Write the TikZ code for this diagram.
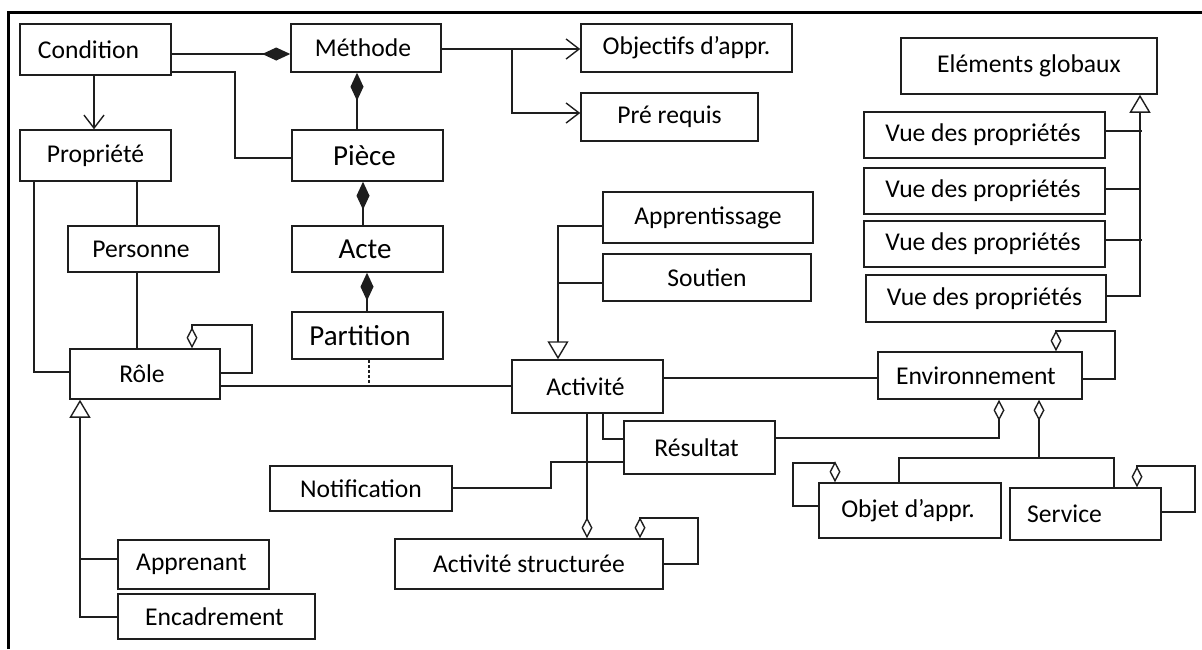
\documentclass[tikz,border=0pt]{standalone}
\usepackage{fontspec}
\setmainfont{Carlito}
\usetikzlibrary{arrows.meta}
\definecolor{ink}{HTML}{1E1E1E}

\begin{document}
\begin{tikzpicture}[x=1pt,y=-1pt,
  box/.style={draw=ink, line width=1.5pt, inner sep=0pt, text=black,
    font=\fontsize{25.6}{29}\selectfont},
  big/.style={font=\fontsize{29}{33}\selectfont},
  sz/.style 2 args={minimum width=#1pt, minimum height=#2pt},
  link/.style={draw=ink, line width=1.4pt, line join=miter},
  nav/.style={-{Straight Barb[length=13pt,width=20pt]}},
  comp/.style={{Diamond[length=28pt,width=13pt]}-},
  compend/.style={-{Diamond[length=28pt,width=13pt]}},
  aggr/.style={{Diamond[open,length=21pt,width=11pt]}-},
  aggrend/.style={-{Diamond[open,length=21pt,width=11pt]}},
  gen/.style={{Triangle[open,length=18pt,width=21pt]}-},
]
\useasboundingbox (0,0) rectangle (1202,649);

% frame
\draw[line width=3.5pt] (8.3,649) -- (8.3,12.3) -- (1202,12.3);

% classes
\node[box, sz={151}{51}] (cond) at (95.5,49.5) {Condition\kern14pt};
\node[box, sz={150}{48}] (meth) at (366,48) {Méthode\kern6pt};
\node[box, sz={211}{48}] (obj) at (686.5,48) {Objectifs d’appr.};
\node[box, sz={177}{48}] (prereq) at (669.5,117) {Pré requis};
\node[box, sz={151}{51}] (prop) at (95.5,155.5) {Propriété};
\node[box, big, sz={151}{51}] (piece) at (367.5,155.5) {Pièce\kern6pt};
\node[box, sz={151}{46}] (pers) at (143.5,249) {Personne\kern5pt};
\node[box, big, sz={151}{46}] (acte) at (367.5,249) {Acte\kern5pt};
\node[box, big, sz={151}{47}] (part) at (367.5,335.5) {Partition\kern15pt};
\node[box, sz={150}{50}] (role) at (145,374) {Rôle\kern6pt};
\node[box, sz={210}{51}] (appr) at (708,217.5) {Apprentissage};
\node[box, sz={208}{47}] (sout) at (707,277.5) {Soutien};
\node[box, sz={151}{53}] (act) at (587.5,386.5) {Activité\kern4pt};
\node[box, sz={204}{47}] (env) at (980,375.5) {Environnement\kern8pt};
\node[box, sz={151}{53}] (res) at (699.5,447.5) {Résultat\kern6pt};
\node[box, sz={182}{45}] (notif) at (361,488.5) {Notification};
\node[box, sz={268}{50}] (astr) at (529,564) {Activité structurée};
\node[box, sz={151}{49}] (appren) at (193.5,564.5) {Apprenant\kern4pt};
\node[box, sz={197}{45}] (encad) at (216.5,616.5) {Encadrement\kern4pt};
\node[box, sz={182}{55}] (objet) at (910,510.5) {Objet d’appr.\kern4pt};
\node[box, sz={151}{52}] (serv) at (1085.5,514) {Service\kern42pt};
\node[box, sz={256}{56}] (glob) at (1029,66) {Eléments globaux};
\node[box, sz={241}{46}] (vue1) at (984.5,135) {Vue des propriétés\kern3pt};
\node[box, sz={241}{46}] (vue2) at (984.5,191) {Vue des propriétés\kern3pt};
\node[box, sz={241}{46}] (vue3) at (984.5,244) {Vue des propriétés\kern3pt};
\node[box, sz={240}{47}] (vue4) at (986,298.5) {Vue des propriétés\kern3pt};

% top cluster
\draw[link, nav] (cond.south -| 94,0) -- (prop.north -| 94,0);
\draw[link, compend] (cond.east |- 0,54) -- (meth.west |- 0,54);
\draw[link] (cond.east |- 0,72) -- (235,72) -- (235,158) -- (piece.west |- 0,158);
\draw[link, comp] (meth.south -| 357,0) -- (piece.north -| 357,0);
\draw[link, nav] (meth.east |- 0,49) -- (obj.west |- 0,49);
\draw[link, nav] (512,49) -- (512,113) -- (prereq.west |- 0,113);
\draw[link, comp] (piece.south -| 363,0) -- (acte.north -| 363,0);
\draw[link, comp] (acte.south -| 367,0) -- (part.north -| 367,0);

% roles
\draw[link] (prop.south -| 34,0) -- (34,372) -- (role.west |- 0,372);
\draw[link] (prop.south -| 137,0) -- (pers.north -| 137,0);
\draw[link] (pers.south -| 137,0) -- (role.north -| 137,0);
\draw[link, aggr] (role.north -| 192,0) -- (192,325) -- (252,325) -- (252,373) -- (role.east |- 0,373);
\draw[link, gen] (role.south -| 80,0) -- (80,617) -- (encad.west |- 0,617);
\draw[link] (80,559) -- (appren.west |- 0,559);

% activities
\draw[link] (role.east |- 0,386) -- (act.west |- 0,386);
\coordinate (pj) at (369,386);
\draw[link, line width=1.2pt, dash pattern=on 3pt off 2pt] (part.south -| 369,0) -- (pj);
\draw[link, gen] (act.north -| 558,0) -- (558,226) -- (appr.west |- 0,226);
\draw[link] (558,283) -- (sout.west |- 0,283);
\draw[link] (act.east |- 0,378) -- (env.west |- 0,378);
\draw[link, aggr] (astr.north -| 587,0) -- (act.south -| 587,0);
\draw[link, aggr] (astr.north -| 640,0) -- (640,518) -- (698,518) -- (698,564) -- (astr.east |- 0,564);
\draw[link] (act.south -| 603,0) -- (603,439) -- (res.west |- 0,439);
\draw[link] (notif.east |- 0,488) -- (551,488) -- (551,462) -- (res.west |- 0,462);
\draw[link, aggrend] (res.east |- 0,438) -- (999,438) -- (env.south -| 999,0);

% environment
\draw[link, aggr] (env.north -| 1056,0) -- (1056,331) -- (1115,331) -- (1115,379) -- (env.east |- 0,379);
\draw[link, aggr] (env.south -| 1039,0) -- (1039,458);
\draw[link] (objet.north -| 899,0) -- (899,458) -- (1114,458) -- (serv.north -| 1114,0);
\draw[link, aggr] (objet.north -| 835,0) -- (835,463) -- (793,463) -- (793,506) -- (objet.west |- 0,506);
\draw[link, aggr] (serv.north -| 1137,0) -- (1137,466) -- (1195,466) -- (1195,512) -- (serv.east |- 0,512);

% global elements
\draw[link, gen] (glob.south -| 1140,0) -- (1140,296) -- (vue4.east |- 0,296);
\draw[link] (vue1.east |- 0,131) -- (1142,131);
\draw[link] (vue2.east |- 0,189) -- (1140,189);
\draw[link] (vue3.east |- 0,240) -- (1142,240);
\end{tikzpicture}
\end{document}
